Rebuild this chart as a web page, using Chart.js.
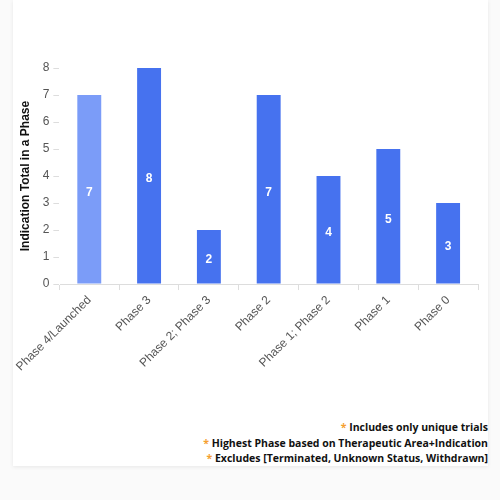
<!DOCTYPE html>
<html>
<head>
<meta charset="utf-8">
<script src="https://cdn.jsdelivr.net/npm/chart.js@4"></script>
<style>
  html, body { margin: 0; padding: 0; background: #fafafa; width: 500px; height: 500px; overflow: hidden; }
  .card {
    position: absolute; left: 13px; top: 0; width: 475px; height: 466px;
    background: #fff; box-shadow: 0 1px 4px rgba(0,0,0,0.08);
  }
  .chart-box { position: absolute; left: 0; top: 0; width: 475px; height: 377px; }
  .notes {
    position: absolute; right: 0; top: 420px;
    font-family: "Open Sans", sans-serif; font-weight: bold; font-size: 10.5px;
    color: #111; text-align: right; line-height: 15.5px;
  }
  .notes span { color: #f5a030; }
</style>
</head>
<body>
<div class="card">
  <div class="chart-box"><canvas id="phaseChart"></canvas></div>
  <div class="notes">
    <div><span>*</span> Includes only unique trials</div>
    <div><span>*</span> Highest Phase based on Therapeutic Area+Indication</div>
    <div><span>*</span> Excludes [Terminated, Unknown Status, Withdrawn]</div>
  </div>
</div>
<script>
const phases = ["Phase 4/Launched", "Phase 3", "Phase 2; Phase 3", "Phase 2", "Phase 1; Phase 2", "Phase 1", "Phase 0"];
const totals = [7, 8, 2, 7, 4, 5, 3];
const yTicks = [0, 1, 2, 3, 4, 5, 6, 7, 8];

const barColors = phases.map((p, i) => i === 0 ? "#7b9cf8" : "#4672ef");

// white value labels in the middle of each bar
const barLabels = {
  id: "barLabels",
  afterDatasetsDraw(chart) {
    const ctx = chart.ctx;
    const meta = chart.getDatasetMeta(0);
    ctx.save();
    ctx.fillStyle = "#fff";
    ctx.font = "bold 12px Arial, 'Liberation Sans', sans-serif";
    ctx.textAlign = "center";
    ctx.textBaseline = "middle";
    meta.data.forEach((bar, i) => {
      ctx.fillText(totals[i], bar.x, (bar.y + bar.base) / 2 + 3);
    });
    ctx.restore();
  }
};

const ctx = document.getElementById("phaseChart").getContext("2d");
new Chart(ctx, {
  type: "bar",
  data: {
    labels: phases,
    datasets: [{
      data: totals,
      backgroundColor: barColors,
      barPercentage: 0.5,
      categoryPercentage: 0.8
    }]
  },
  options: {
    responsive: true,
    maintainAspectRatio: false,
    animation: false,
    layout: { padding: { top: 68, right: 10, left: 0, bottom: 0 } },
    plugins: {
      legend: { display: false },
      tooltip: { enabled: false }
    },
    scales: {
      x: {
        grid: { display: true, drawOnChartArea: false, drawTicks: true, tickLength: 6, color: "#ddd" },
        border: { color: "#ddd" },
        ticks: {
          color: "#555",
          font: { family: "Arial, 'Liberation Sans', sans-serif", size: 12 },
          minRotation: 45,
          maxRotation: 45,
          autoSkip: false
        }
      },
      y: {
        min: 0,
        max: 8,
        afterBuildTicks: (axis) => { axis.ticks = yTicks.map(v => ({ value: v })); },
        grid: { display: true, drawOnChartArea: false, drawTicks: true, tickLength: 6, color: "#ddd" },
        border: { color: "#fff" },
        ticks: {
          color: "#555",
          font: { family: "Arial, 'Liberation Sans', sans-serif", size: 12 },
          padding: 4
        },
        title: {
          display: true,
          text: "Indication Total in a Phase",
          color: "#111",
          font: { family: "Arial, 'Liberation Sans', sans-serif", size: 12, weight: "bold" },
          padding: { top: -6, bottom: 6 }
        }
      }
    }
  },
  plugins: [barLabels]
});
</script>
</body>
</html>
